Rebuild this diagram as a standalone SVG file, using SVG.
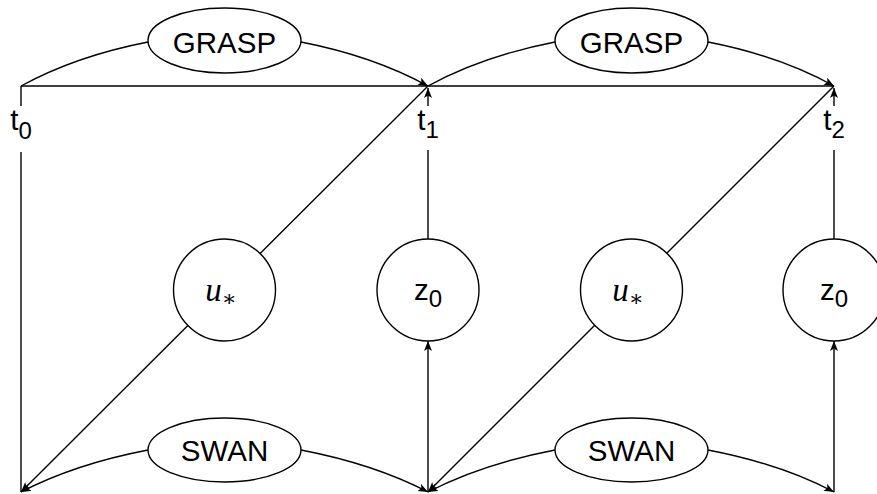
<svg xmlns="http://www.w3.org/2000/svg" width="877" height="494" viewBox="0 0 877 494">
<style>
.e{fill:none;stroke:#000;stroke-width:1.4}
.n{fill:#fff;stroke:#000;stroke-width:1.4}
.t{font-family:"Liberation Sans",Arial,sans-serif;font-size:29.5px;fill:#000;text-anchor:middle}
.s{font-size:24px}
.m{font-family:"Liberation Serif","Times New Roman",serif;font-style:italic;font-size:33px;fill:#000;text-anchor:middle}
.a{font-family:"DejaVu Serif",serif;font-style:normal;font-size:22px}
</style>
<defs>
<marker id="ar" markerUnits="userSpaceOnUse" markerWidth="12" markerHeight="10" refX="10" refY="4" orient="auto">
<path d="M0,0 L10,4 L0,8 L2.5,4 Z" fill="#000"/>
</marker>
</defs>
<rect width="877" height="494" fill="#fff"/>
<g id="connectors">
<line class="e" x1="21" y1="86" x2="834" y2="86"/>
<path class="e" d="M21,86 Q76,56 148,42"/>
<path class="e" d="M301,42 Q373,56 428,86" marker-end="url(#ar)"/>
<path class="e" d="M428,86 Q483,56 555,42"/>
<path class="e" d="M708,42 Q780,56 834,86" marker-end="url(#ar)"/>
<path class="e" d="M148,450 Q75,464 21,492" marker-end="url(#ar)"/>
<path class="e" d="M301,450 Q374,464 428,492" marker-end="url(#ar)"/>
<path class="e" d="M555,450 Q482,464 428,492" marker-end="url(#ar)"/>
<path class="e" d="M708,450 Q781,464 834,492" marker-end="url(#ar)"/>
<line class="e" x1="21" y1="86" x2="21" y2="106"/>
<line class="e" x1="21" y1="152" x2="21" y2="492"/>
<line class="e" x1="428" y1="239" x2="428" y2="150"/>
<line class="e" x1="428" y1="106" x2="428" y2="88" marker-end="url(#ar)"/>
<line class="e" x1="428" y1="492" x2="428" y2="341" marker-end="url(#ar)"/>
<line class="e" x1="834" y1="239" x2="834" y2="150"/>
<line class="e" x1="834" y1="106" x2="834" y2="88" marker-end="url(#ar)"/>
<line class="e" x1="834" y1="492" x2="834" y2="341" marker-end="url(#ar)"/>
<line class="e" x1="428" y1="86" x2="21" y2="492" marker-end="url(#ar)"/>
<line class="e" x1="834" y1="86" x2="428" y2="492" marker-end="url(#ar)"/>
</g>
<g id="grasp1"><ellipse class="n" cx="224.5" cy="40.5" rx="76.5" ry="32.5"/><text class="t" x="224.5" y="53">GRASP</text></g>
<g id="grasp2"><ellipse class="n" cx="631.5" cy="40.5" rx="76.5" ry="32.5"/><text class="t" x="631.5" y="53">GRASP</text></g>
<g id="swan1"><ellipse class="n" cx="224.5" cy="450" rx="76.5" ry="32"/><text class="t" x="224.5" y="461">SWAN</text></g>
<g id="swan2"><ellipse class="n" cx="631.5" cy="450" rx="76.5" ry="32"/><text class="t" x="631.5" y="461">SWAN</text></g>
<g id="ustar1"><circle class="n" cx="224.5" cy="290" r="51"/><text class="m" x="221" y="301">u<tspan class="a" dy="5">∗</tspan></text></g>
<g id="z01"><circle class="n" cx="428" cy="290" r="51"/><text class="t" x="428" y="300">z<tspan class="s" dy="7">0</tspan></text></g>
<g id="ustar2"><circle class="n" cx="631.5" cy="290" r="51"/><text class="m" x="628" y="301">u<tspan class="a" dy="5">∗</tspan></text></g>
<g id="z02"><circle class="n" cx="834" cy="290" r="51"/><text class="t" x="834" y="300">z<tspan class="s" dy="7">0</tspan></text></g>
<g id="t0"><text class="t" x="21" y="130">t<tspan class="s" dy="9">0</tspan></text></g>
<g id="t1"><text class="t" x="428" y="130">t<tspan class="s" dy="8">1</tspan></text></g>
<g id="t2"><text class="t" x="834" y="130">t<tspan class="s" dy="8">2</tspan></text></g>
</svg>
